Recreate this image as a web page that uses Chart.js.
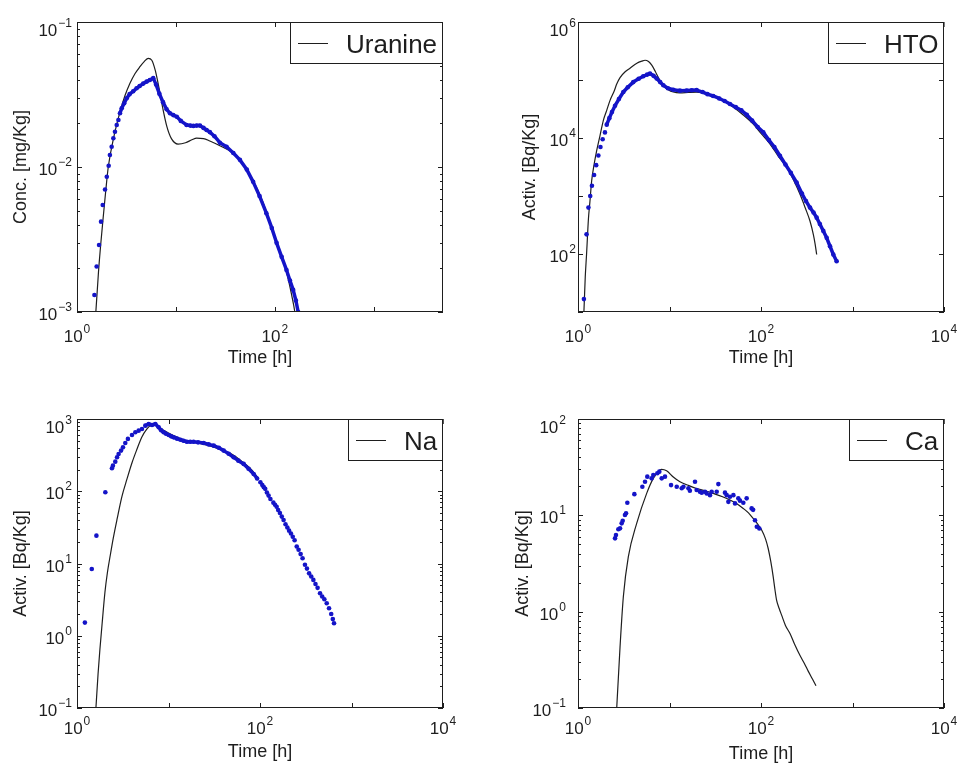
<!DOCTYPE html>
<html>
<head>
<meta charset="utf-8">
<script src="https://cdn.jsdelivr.net/npm/chart.js@4/dist/chart.umd.min.js"></script>
<style>
  body { margin: 0; background: #fff; }
  .panel { position: absolute; }
</style>
</head>
<body>
<div class="panel" style="left:0;top:0;width:480px;height:380px"><canvas id="uranine"></canvas></div>
<div class="panel" style="left:480px;top:0;width:481px;height:380px"><canvas id="hto"></canvas></div>
<div class="panel" style="left:0;top:380px;width:480px;height:387px"><canvas id="na"></canvas></div>
<div class="panel" style="left:480px;top:380px;width:481px;height:387px"><canvas id="ca"></canvas></div>
<script>
// ---- Uranine (conc. mg/Kg) ----
const uranineModelT = [1.52,1.55,1.65,1.75,1.84,1.95,2.07,2.35,2.72,3.05,3.43,3.85,4.33,4.8,5.25,5.7,6.2,6.8,7.4,8.1,9.0,10.5,12.5,14.5,16.2,19,22,27.8,38,48,60,75,96,115,132,148,159,165];
const uranineModelC = [0.0008,0.001,0.0019,0.0031,0.0045,0.0068,0.010,0.016,0.024,0.031,0.0378,0.044,0.0492,0.0535,0.0562,0.0545,0.046,0.034,0.025,0.019,0.0157,0.0144,0.0147,0.0154,0.0158,0.0157,0.0151,0.014,0.0124,0.0103,0.0081,0.0058,0.0035,0.0025,0.00185,0.0013,0.001,0.0008];
const uranineEarlyT = [1.50,1.58,1.67,1.75,1.82,1.92,2.0,2.09,2.15,2.24,2.33,2.42,2.52,2.62];
const uranineEarlyC = [0.00131,0.00206,0.0029,0.0042,0.00547,0.0070,0.00857,0.0102,0.0121,0.0138,0.0158,0.0175,0.0195,0.0211];
const uranineDataT = [2.72,2.83,3.0,3.18,3.4,3.7,4.0,4.3,4.67,5.06,5.45,5.9,6.3,6.8,7.4,8.05,8.7,9.4,10.2,11.2,12.8,14,15,16.2,17.5,19,20.4,22,24.5,27.8,32.5,38,44.3,52,60.3,70,82,93,104,117,131,142,153,163,172];
const uranineDataC = [0.0235,0.0254,0.0275,0.0298,0.0318,0.0333,0.0349,0.0362,0.0376,0.0388,0.0398,0.041,0.037,0.032,0.028,0.025,0.0235,0.0228,0.0222,0.0208,0.0195,0.0193,0.0192,0.0193,0.0193,0.0186,0.018,0.0174,0.0163,0.0147,0.0138,0.0125,0.0112,0.0096,0.0079,0.0063,0.0048,0.0038,0.0030,0.0024,0.00195,0.00165,0.00142,0.0012,0.001];

// ---- HTO (Bq/Kg) ----
const htoModelT = [1.15,1.16,1.2,1.24,1.3,1.35,1.41,1.5,1.6,1.74,1.89,2.06,2.24,2.5,2.65,2.88,3.3,3.7,4.4,5.0,5.4,5.9,6.4,7.0,7.55,8.5,9.7,11,13,16,19.8,24,30,38,50,64,82,100,125,155,191,230,267,305,343,373,390,406];
const htoModelA = [8,10,40,98,400,800,1820,3500,6050,11000,20000,30000,44500,66000,85000,110000,140000,160000,195000,212000,219000,208000,180000,140000,110000,82000,68000,62000,60000,61000,62000,59000,54000,45000,34000,25000,17500,12000,7950,4800,3100,1800,1070,620,370,218,150,98];
const htoEarlyT = [1.16,1.24,1.30,1.36,1.42,1.5,1.58,1.67,1.76,1.86,1.97];
const htoEarlyA = [16.7,218,631,1000,1500,2300,3400,5000,7000,9500,12500];
const htoDataT = [2.06,2.2,2.35,2.54,2.8,3.13,3.5,4.02,4.6,5.17,5.7,6.12,6.7,7.24,7.9,8.56,9.6,11,13,15.4,17.5,19.8,23,26,30,35,40,45.8,53,61,70,80,92,106,122,140,161,185,212,245,280,310,343,375,406,440,480,522,568,617,671];
const htoDataA = [17000,22000,28000,36000,47000,62000,75000,92000,105000,116000,124000,129000,118000,106000,92000,81000,72000,68000,65500,66000,66500,67000,62000,57000,53000,48000,43500,38500,34000,30000,25000,20000,15500,12500,9200,7000,4950,3500,2500,1710,1100,820,631,520,423,330,250,190,136,98,75];

// ---- Na (Bq/Kg) ----
const naModelT = [1.58,1.61,1.7,1.78,1.9,2.02,2.15,2.31,2.5,2.74,3.1,3.52,4.0,4.53,5.1,5.82,6.4,7.0,7.6,8.5,9.55,11.5,14.5,18,22,27,33.6,42,51,62,78,96];
const naModelA = [0.07,0.1,0.3,0.65,1.7,4.0,7.5,13,23,41,85,148,250,384,560,728,820,840,810,720,660,585,515,480,461,430,394,355,318,265,208,151];
const naEarlyT = [1.22,1.45,1.63,2.04,2.41,2.47,2.62,2.74,2.85,3.03,3.18,3.37,3.6,3.99,4.34,4.72,5.13];
const naEarlyA = [1.52,8.4,24.3,97,208,226,257,295,328,365,405,466,530,601,654,690,728];
const naDataT = [5.58,6.07,6.6,7.18,7.81,8.3,8.85,9.4,10.05,10.7,11.4,12.4,13.5,14.6,15.9,17.3,18.8,21,24.2,27.5,31.2,35.5,40.1,45.5,51.5,58,66.3,75,85.3,93];
const naDataA = [809,853,826,853,767,700,654,625,601,575,557,535,517,500,485,485,485,475,466,445,428,400,365,330,295,265,239,205,173,150];
const naTailT = [101,106,110,114,119,124,130,140,146,152,158,165,173,181,190,199,208,218,228,239,252,264,278,292,310,326,344,363,383,404,426,453,478,505,536,568,600,625,644];
const naTailA = [133,122,114,108,96,87,78,69.5,65,61,55,50,44.6,40,35,31.5,28.5,26,23.5,21,17.2,15.5,13.5,11.8,9.6,8.5,7.3,6.6,5.93,5.2,4.6,3.88,3.5,3.2,2.82,2.4,2.0,1.7,1.49];

// ---- Ca (Bq/Kg) ----
const caModelT = [2.6,2.65,2.88,3.13,3.55,4.38,5.63,6.66,8.2,9.3,11,13,16,19.8,25,30,38,45.8,55,64,73,82,92,102,112,120,128,136,142,148,158,168,185,208,235,267,298,329,365,399];
const caModelA = [0.07,0.1,0.43,1.43,3.72,8.25,16.9,24.2,30,29,25,22.3,20.5,19,17.9,16.9,15.6,14.4,13.1,11.8,10.6,9.3,8.1,7.0,5.7,4.5,3.3,2.3,1.7,1.32,1.08,0.92,0.72,0.59,0.45,0.35,0.29,0.24,0.2,0.17];
const caDataT = [2.54,2.6,2.76,2.88,3.0,3.08,3.26,3.35,3.46,4.13,5.05,5.4,5.72,6.38,6.65,7.36,7.74,8.22,8.93,10.4,12,13.6,14.2,16.1,16.7,19,19.8,21.5,22.5,24.4,25.5,27.7,28.9,32.8,34.2,40.4,42.2,44,45.8,49.9,52,56.5,58.9,64.1,69.7,79,82,86,90,95.9];
const caDataA = [5.77,6.24,7.16,7.33,8.26,8.79,10.07,10.5,13.5,16.6,19.8,22.3,25.2,24.2,26.2,27.3,28.4,24.2,25.2,20.6,19.8,19.1,19.8,19.1,18,22.3,18.3,17.6,17.2,17.6,16.9,16.2,17.6,17.6,21.1,17.2,16.2,13.8,15.6,16.2,13.3,15,14.2,13.5,15,11.8,11.4,8.9,7.6,7.3];

const BLUE = '#1414c8';
const INK = '#1e1e1e';
const FONT = "'Liberation Sans', Arial, sans-serif";

function pts(ts, vs) { return ts.map((t, i) => ({x: t, y: vs[i]})); }

// measured points; dense runs also get a thick line so they read as a band
function dots(ts, vs, band) {
    return { data: pts(ts, vs), showLine: band, borderColor: BLUE, borderWidth: 3.5,
             borderJoinStyle: 'round', borderCapStyle: 'round', tension: 0,
             pointRadius: 2.3, pointBackgroundColor: BLUE, pointBorderWidth: 0 };
}
function model(ts, vs) {
    return { data: pts(ts, vs), showLine: true, borderColor: INK, borderWidth: 1.2,
             pointRadius: 0, cubicInterpolationMode: 'monotone' };
}

function eachTick(scale, minor, cb) {
    const lo = Math.floor(Math.log10(scale.min)), hi = Math.ceil(Math.log10(scale.max));
    for (let e = lo; e <= hi; e++) {
        for (let k = 1; k <= (minor ? 9 : 1); k++) {
            const v = k * Math.pow(10, e);
            if (v < scale.min * 0.999 || v > scale.max * 1.001) continue;
            cb(scale.getPixelForValue(v), k === 1);
        }
    }
}

function drawPow(ctx, e, x, yBase, align) {
    const exp = String(e).replace('-', '\u2212');
    ctx.font = '17px ' + FONT;
    const wb = ctx.measureText('10').width;
    ctx.font = '12px ' + FONT;
    const we = ctx.measureText(exp).width + 1;
    const x0 = align === 'center' ? x - (wb + we) / 2 : x - wb - we;
    ctx.font = '17px ' + FONT;
    ctx.fillText('10', x0, yBase);
    ctx.font = '12px ' + FONT;
    ctx.fillText(exp, x0 + wb + 1, yBase - 9);
}

// MATLAB-like frame: box, inward ticks, 10^n labels and boxed legend
const framePlugin = {
    id: 'frame',
    afterDraw(chart, args, o) {
        const {ctx, chartArea: a} = chart;
        const sx = chart.scales.x, sy = chart.scales.y;
        ctx.save();
        ctx.strokeStyle = INK;
        ctx.fillStyle = INK;
        ctx.lineWidth = 1;
        ctx.beginPath();
        eachTick(sx, false, (px, major) => {
            const p = Math.round(px) + 0.5, len = major ? 5 : 3;
            ctx.moveTo(p, a.bottom); ctx.lineTo(p, a.bottom - len);
            ctx.moveTo(p, a.top); ctx.lineTo(p, a.top + len);
        });
        eachTick(sy, o.yMinor, (py, major) => {
            const p = Math.round(py) + 0.5, len = major ? 5 : 3;
            ctx.moveTo(a.left, p); ctx.lineTo(a.left + len, p);
            ctx.moveTo(a.right, p); ctx.lineTo(a.right - len, p);
        });
        ctx.stroke();
        ctx.strokeRect(a.left + 0.5, a.top + 0.5, a.width - 1, a.height - 1);

        ctx.textAlign = 'left';
        ctx.textBaseline = 'alphabetic';
        o.xLabels.forEach(e => drawPow(ctx, e, sx.getPixelForValue(Math.pow(10, e)), a.bottom + o.xLabelGap, 'center'));
        o.yLabels.forEach(e => {
            const py = sy.getPixelForValue(Math.pow(10, e));
            const shift = Math.abs(py - a.top) < 2 ? 6 : 0;
            drawPow(ctx, e, a.left - o.yLabelGap, py + 8 + shift, 'right');
        });

        // legend box in the top right corner
        ctx.font = '26px ' + FONT;
        const tw = ctx.measureText(o.legend).width;
        const w = 8 + 30 + 18 + tw + 6, h = 41;
        const bx = Math.round(a.right - w), by = a.top;
        ctx.fillStyle = '#fff';
        ctx.fillRect(bx, by, w, h);
        ctx.strokeRect(bx + 0.5, by + 0.5, a.right - bx - 1, h);
        ctx.beginPath();
        ctx.moveTo(bx + 8, by + 21.5); ctx.lineTo(bx + 38, by + 21.5);
        ctx.stroke();
        ctx.fillStyle = INK;
        ctx.fillText(o.legend, bx + 56, by + 31);
        ctx.restore();
    }
};

function plot(id, o) {
    new Chart(document.getElementById(id), {
        type: 'scatter',
        data: { datasets: o.datasets },
        options: {
            responsive: true,
            maintainAspectRatio: false,
            animation: false,
            layout: { padding: { top: o.top, right: o.right, left: 0, bottom: 0 } },
            plugins: {
                legend: { display: false },
                tooltip: { enabled: false },
                frame: { legend: o.legend, xLabels: o.xLabels, yLabels: o.yLabels, yMinor: o.yMinor,
                         xLabelGap: o.xLabelGap, yLabelGap: o.yLabelGap }
            },
            scales: {
                x: {
                    type: 'logarithmic', min: o.xMin, max: o.xMax,
                    grid: { display: false }, border: { display: false }, ticks: { display: false },
                    title: { display: true, text: 'Time [h]', color: INK,
                             font: { family: FONT, size: 18 }, padding: { top: 0, bottom: o.xTitlePad } },
                    afterFit: s => { s.height = o.xAxisH; }
                },
                y: {
                    type: 'logarithmic', min: o.yMin, max: o.yMax,
                    grid: { display: false }, border: { display: false }, ticks: { display: false },
                    title: { display: true, text: o.yTitle, color: INK,
                             font: { family: FONT, size: 18 }, padding: { top: o.yTitlePad, bottom: 0 } },
                    afterFit: s => { s.width = o.yAxisW; }
                }
            }
        },
        plugins: [framePlugin]
    });
}

// blue datasets first so they are painted over the model line
plot('uranine', {
    top: 22, right: 37, yAxisW: 77, xAxisH: 68, xTitlePad: 11, yTitlePad: 10,
    xMin: 1, xMax: 5000, yMin: 0.001, yMax: 0.1,
    xLabels: [0, 2], yLabels: [-1, -2, -3], yMinor: true, xLabelGap: 30, yLabelGap: 5,
    yTitle: 'Conc. [mg/Kg]', legend: 'Uranine',
    datasets: [dots(uranineDataT, uranineDataC, true), dots(uranineEarlyT, uranineEarlyC, false),
               model(uranineModelT, uranineModelC)]
});

plot('hto', {
    top: 22, right: 17, yAxisW: 98, xAxisH: 68, xTitlePad: 11, yTitlePad: 39,
    xMin: 1, xMax: 10000, yMin: 10, yMax: 1e6,
    xLabels: [0, 2, 4], yLabels: [6, 4, 2], yMinor: false, xLabelGap: 30, yLabelGap: 2,
    yTitle: 'Activ. [Bq/Kg]', legend: 'HTO',
    datasets: [dots(htoDataT, htoDataA, true), dots(htoEarlyT, htoEarlyA, false),
               model(htoModelT, htoModelA)]
});

plot('na', {
    top: 39, right: 37, yAxisW: 77, xAxisH: 59, xTitlePad: 4, yTitlePad: 10,
    xMin: 1, xMax: 10000, yMin: 0.1, yMax: 1000,
    xLabels: [0, 2, 4], yLabels: [3, 2, 1, 0, -1], yMinor: true, xLabelGap: 26, yLabelGap: 5,
    yTitle: 'Activ. [Bq/Kg]', legend: 'Na',
    datasets: [dots(naDataT, naDataA, true), dots(naEarlyT, naEarlyA, false), dots(naTailT, naTailA, false),
               model(naModelT, naModelA)]
});

plot('ca', {
    top: 39, right: 17, yAxisW: 98, xAxisH: 59, xTitlePad: 2, yTitlePad: 32,
    xMin: 1, xMax: 10000, yMin: 0.1, yMax: 100,
    xLabels: [0, 2, 4], yLabels: [2, 1, 0, -1], yMinor: true, xLabelGap: 26, yLabelGap: 12,
    yTitle: 'Activ. [Bq/Kg]', legend: 'Ca',
    datasets: [dots(caDataT, caDataA, false), model(caModelT, caModelA)]
});
</script>
</body>
</html>
